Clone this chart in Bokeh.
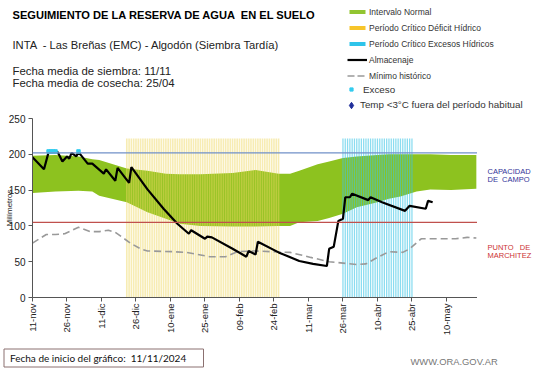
import math
from bokeh.plotting import figure
from bokeh.layouts import column, row
from bokeh.models import Range1d, FixedTicker, Span, Label, Legend, LegendItem
from bokeh.embed import file_html
from bokeh.resources import INLINE

# ---------------- data (days since 11/11/2024) ----------------
tick_days = [0, 15, 30, 45, 60, 75, 90, 105, 120, 135, 150, 165, 180]
tick_labels = ["11-nov", "26-nov", "11-dic", "26-dic", "10-ene", "25-ene", "09-feb",
               "24-feb", "11-mar", "26-mar", "10-abr", "25-abr", "10-may"]

norm_day = [0, 10, 20, 26, 29, 41, 50, 58, 64, 73, 87, 97, 107, 112, 116, 124, 129,
            135, 141, 150, 155, 160, 167, 173, 182, 193]
norm_upper = [198, 199, 197, 193, 192, 180, 177, 173, 172, 172, 174, 178, 173, 173,
              177, 186, 190, 195, 197, 199, 200, 200, 200, 200, 199, 199]
norm_lower = [146, 148, 149, 148, 142, 133, 119, 110, 103, 100, 99, 99, 100, 100,
              105, 107, 111, 117, 126, 133, 138, 141, 148, 151, 150, 152]

alm_day = [0, 5, 7, 11, 13, 15, 16, 17, 19, 20, 24, 26, 31, 32, 36, 37, 42, 43, 50,
           57, 63, 68, 69, 75, 76, 78, 87, 93, 94, 97, 98, 107, 116, 122, 128, 129,
           131, 133, 135, 136, 138, 139, 146, 147, 152, 162, 164, 171, 172, 174]
alm_val = [196, 179, 203, 203, 190, 197, 194, 202, 197, 203, 187, 187, 173, 179, 163,
           181, 160, 182, 151, 124, 103, 89, 94, 82, 85, 84, 68, 57, 65, 60, 78, 63,
           51, 47, 44, 68, 71, 107, 110, 140, 140, 145, 136, 140, 133, 121, 128, 124,
           135, 133]

min_day = [0, 6, 10, 14, 20, 25, 29, 33, 36, 43, 47, 50, 61, 67, 77, 84, 89, 96, 104,
           112, 121, 129, 141, 145, 150, 155, 161, 164, 169, 173, 184, 189, 193]
min_val = [76, 88, 88, 89, 98, 92, 92, 94, 91, 75, 68, 65, 64, 63, 57, 57, 64, 65, 64,
           63, 56, 50, 46, 47, 56, 64, 63, 68, 82, 82, 82, 84, 83]

exceso_day = [7, 8, 9, 10, 20]
exceso_val = [204, 204, 204, 204, 204]

deficit_start, deficit_end = 41, 107      # 22-dic .. 26-feb
exc_start, exc_end = 135, 165             # 26-mar .. 25-abr
period_top = 222
capacidad = 202
marchitez = 105

FONT = "Liberation Sans"
NB = "\u00a0"
W = 541
HEAD_H = 110
MAIN_W, RIGHT_W = 477, 64
MAIN_H = 230          # 8 top border + 179 frame + 43 bottom border
FOOT_H = 28


def bare(width, height, xr, yr):
    f = figure(width=width, height=height, output_backend="svg", toolbar_location=None,
               x_range=xr, y_range=yr, x_axis_location=None, y_axis_location=None,
               min_border=0)
    f.min_border_left = f.min_border_right = f.min_border_top = f.min_border_bottom = 0
    f.outline_line_color = None
    f.grid.visible = False
    return f


def lab(fig, x, y, text, size, color="#222222", bold=False, align="left", font=FONT):
    fig.add_layout(Label(x=x, y=y, text=text, text_font=font, text_font_size=size,
                         text_color=color, text_font_style="bold" if bold else "normal",
                         text_align=align, text_baseline="middle"))


def style_legend(lg, size, glyph_w, glyph_h, label_h, standoff):
    lg.glyph_width = glyph_w
    lg.glyph_height = glyph_h
    lg.label_height = label_h
    lg.spacing = 4
    lg.padding = 0
    lg.margin = 0
    lg.label_standoff = standoff
    lg.label_text_font = FONT
    lg.label_text_font_size = size
    lg.label_text_color = "#333333"
    lg.background_fill_alpha = 0
    lg.border_line_color = None


# ---------------- header: titles + legend ----------------
head = bare(W, HEAD_H, Range1d(0, W), Range1d(0, HEAD_H))
lab(head, 12, 95.5, f"SEGUIMIENTO DE LA RESERVA DE AGUA {NB}EN EL SUELO", "11.1px",
    color="black", bold=True)
lab(head, 12, 66, f"INTA {NB}- Las Breñas (EMC) - Algodón (Siembra Tardía)", "11.2px")
lab(head, 12, 39.5, "Fecha media de siembra: 11/11", "11.4px")
lab(head, 12, 27.5, "Fecha media de cosecha: 25/04", "11.4px")

nan = float("nan")
h_norm = head.varea(x=[nan], y1=[nan], y2=[nan], fill_color="#92C531")
h_def = head.varea(x=[nan], y1=[nan], y2=[nan], fill_color="#F7C52A")
h_exc = head.varea(x=[nan], y1=[nan], y2=[nan], fill_color="#2EC4EA")
h_alm = head.line(x=[nan], y=[nan], line_color="black", line_width=2.2)
h_min = head.line(x=[nan], y=[nan], line_color="#999999", line_width=1.6,
                  line_dash="7 3")
h_expt = head.scatter(x=[nan], y=[nan], marker="square", size=3,
                      fill_color="#33CCEE", line_color="#33CCEE")
h_temp = head.scatter(x=[nan], y=[nan], marker="diamond", size=7,
                      fill_color="#1F2E9A", line_color="#1F2E9A")

leg_a = Legend(items=[
    LegendItem(label="Intervalo Normal", renderers=[h_norm]),
    LegendItem(label="Período Crítico Déficit Hídrico", renderers=[h_def]),
    LegendItem(label="Período Crítico Excesos Hídricos", renderers=[h_exc]),
    LegendItem(label="Almacenaje", renderers=[h_alm]),
    LegendItem(label="Mínimo histórico", renderers=[h_min]),
], location=(347, 28.5), orientation="vertical")
style_legend(leg_a, "8.5px", 20, 5, 12, 2)
head.add_layout(leg_a, "center")

leg_b = Legend(items=[LegendItem(label="Exceso", renderers=[h_expt])],
               location=(347, 14.7), orientation="vertical")
style_legend(leg_b, "9.8px", 8, 8, 12, 8)
head.add_layout(leg_b, "center")

leg_c = Legend(items=[LegendItem(label="Temp <3°C fuera del período habitual",
                                 renderers=[h_temp])],
               location=(343, -2.5), orientation="vertical")
style_legend(leg_c, "9.8px", 16, 16, 16, 1)
head.add_layout(leg_c, "center")

# ---------------- main chart ----------------
yr = Range1d(0, 250)
p = figure(width=MAIN_W, height=MAIN_H, output_backend="svg", toolbar_location=None,
           x_range=Range1d(0, 193.5), y_range=yr,
           min_border_left=32, min_border_right=0, min_border_top=8,
           min_border_bottom=43)
p.outline_line_color = None
p.grid.visible = False

p.varea(x=norm_day, y1=norm_lower, y2=norm_upper, fill_color="#8DC21F")

def_days = list(range(deficit_start, deficit_end + 1))
exc_days = list(range(exc_start, exc_end + 1))
p.vbar(x=def_days, top=[period_top] * len(def_days), bottom=0, width=0.7,
       fill_color="#EFD860", fill_alpha=0.48, line_color=None)
p.vbar(x=exc_days, top=[period_top] * len(exc_days), bottom=0, width=0.55,
       fill_color="#3CC4E6", fill_alpha=0.6, line_color=None)

p.add_layout(Span(location=capacidad, dimension="width", line_color="#7090C8",
                  line_width=1.2))
p.add_layout(Span(location=marchitez, dimension="width", line_color="#C0504D",
                  line_width=1.2))

p.line(min_day, min_val, line_color="#999999", line_width=1.6, line_dash="7 4")
p.line(alm_day, alm_val, line_color="black", line_width=2.2)
p.scatter(exceso_day, exceso_val, marker="square", size=3.5,
          fill_color="#33CCEE", line_color="#33CCEE")

xa = p.xaxis[0]
xa.ticker = FixedTicker(ticks=tick_days)
xa.major_label_overrides = {d: l for d, l in zip(tick_days, tick_labels)}
xa.major_label_orientation = math.pi / 2
xa.major_label_text_font = FONT
xa.major_label_text_font_size = "9.5px"
xa.major_label_text_color = "#222222"
xa.minor_tick_line_color = None
xa.major_tick_in = 0
xa.major_tick_out = 4
xa.axis_line_color = "#555555"
xa.major_tick_line_color = "#555555"
xa.major_label_standoff = 2

ya = p.yaxis[0]
ya.ticker = FixedTicker(ticks=[0, 50, 100, 150, 200, 250])
ya.major_label_text_font = FONT
ya.major_label_text_font_size = "10px"
ya.major_label_text_color = "#222222"
ya.minor_tick_line_color = None
ya.major_tick_in = 0
ya.major_tick_out = 4
ya.axis_line_color = "#555555"
ya.major_tick_line_color = "#555555"
ya.major_label_standoff = 3
ya.axis_label = "Milímetros"
ya.axis_label_text_font = FONT
ya.axis_label_text_font_size = "8px"
ya.axis_label_text_font_style = "normal"
ya.axis_label_text_color = "#222222"
ya.axis_label_standoff = -8

# ---------------- right margin labels ----------------
right = figure(width=RIGHT_W, height=MAIN_H, output_backend="svg",
               toolbar_location=None, x_range=Range1d(0, RIGHT_W), y_range=yr,
               x_axis_location=None, y_axis_location=None,
               min_border_left=0, min_border_right=0, min_border_top=8,
               min_border_bottom=43)
right.outline_line_color = None
right.grid.visible = False
lab(right, 10, 176, "CAPACIDAD", "7.5px", color="#333399")
lab(right, 10, 164.5, f"DE {NB}CAMPO", "7.5px", color="#333399")
lab(right, 10, 70, f"PUNTO {NB}{NB}DE", "7.5px", color="#CC3333")
lab(right, 10, 58.5, "MARCHITEZ", "7.5px", color="#CC3333")

# ---------------- footer ----------------
foot = bare(W, FOOT_H, Range1d(0, W), Range1d(0, FOOT_H))
foot.quad(left=[3.5], right=[203], bottom=[1.5], top=[19.5], fill_color="white",
          line_color="#8B7070", line_width=1)
lab(foot, 9.5, 10.5, f"Fecha de inicio del gráfico: {NB}11/11/2024", "10px",
    color="#111111", font="Lato")
lab(foot, 410, 7.5, "WWW.ORA.GOV.AR", "9.4px", color="#777777")

layout = column(head, row(p, right), foot)
open("out.html", "w").write(file_html(layout, INLINE))
